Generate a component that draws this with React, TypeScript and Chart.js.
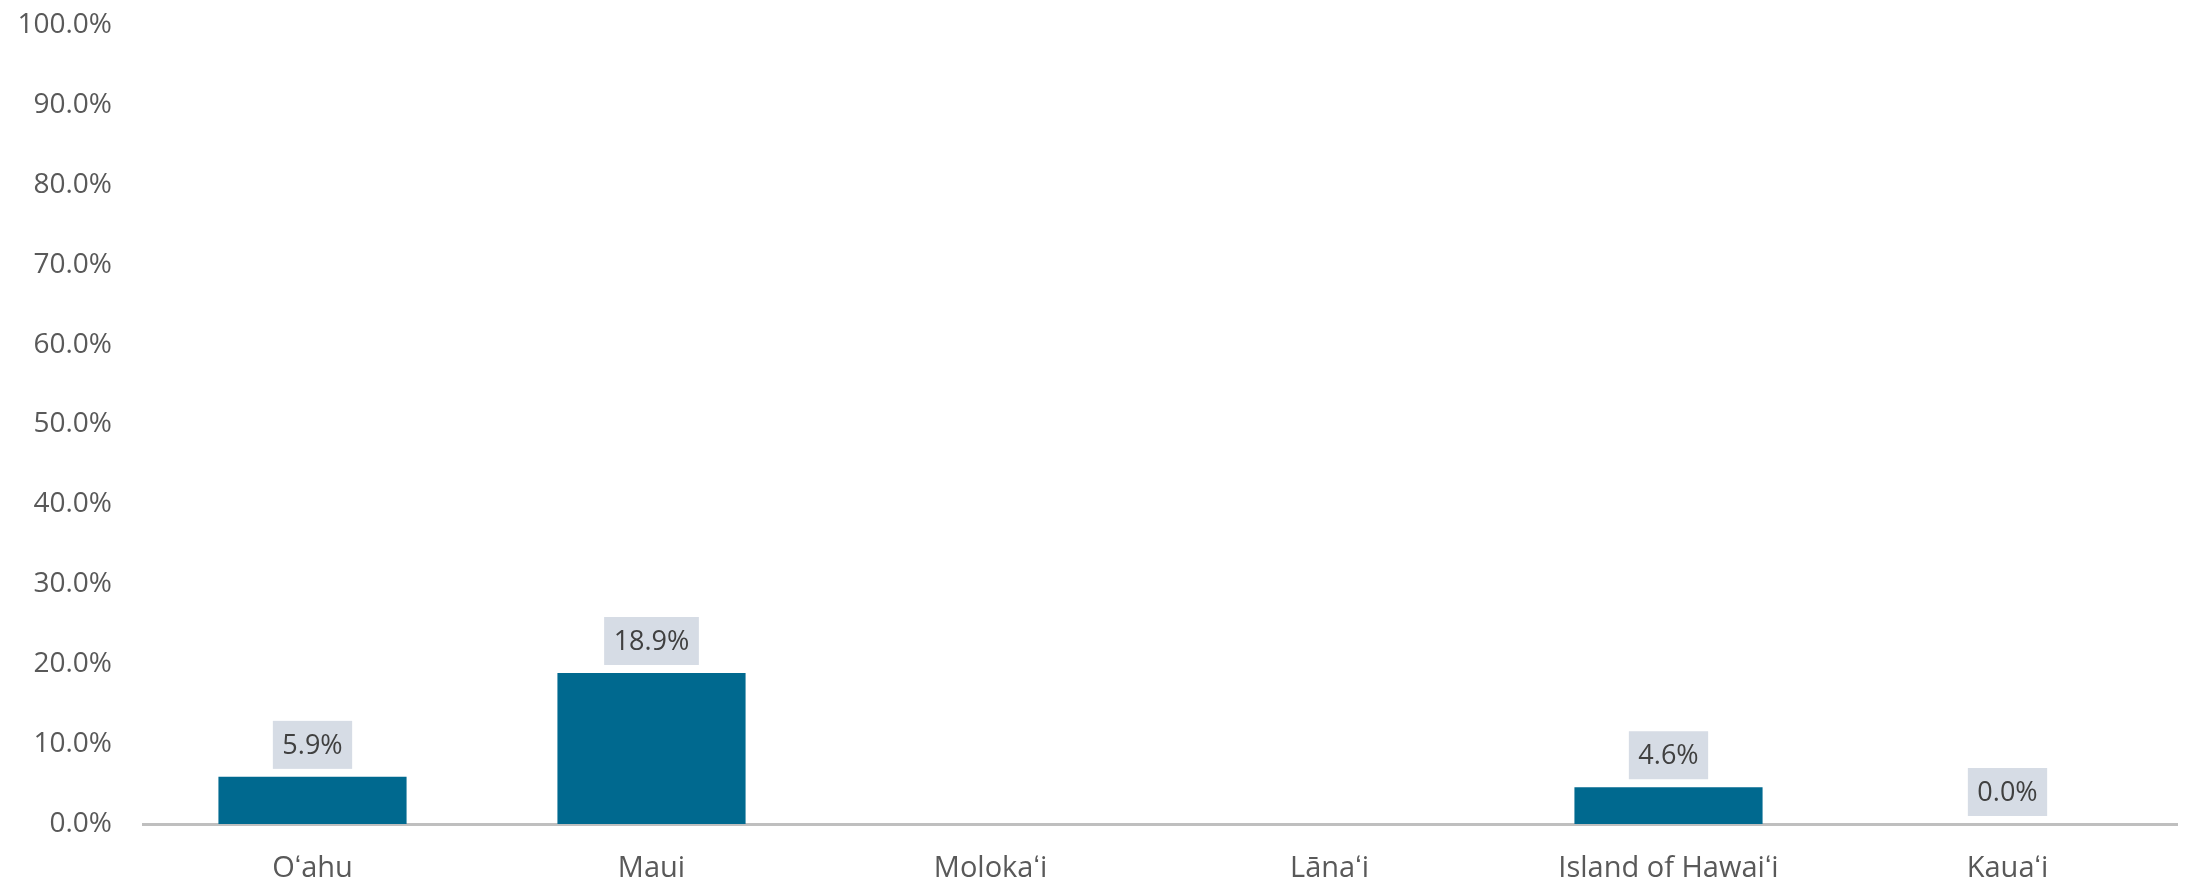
import React, { useEffect, useRef } from "react";
import { Chart, registerables } from "chart.js";

Chart.register(...registerables);

const categories = ["Oʻahu", "Maui", "Molokaʻi", "Lānaʻi", "Island of Hawaiʻi", "Kauaʻi"];
const values: (number | null)[] = [5.9, 18.9, null, null, 4.6, 0.0];
const yTicks = [0, 10, 20, 30, 40, 50, 60, 70, 80, 90, 100];

const BAR_COLOR = "#00698f";
const LABEL_BG = "#d6dce5";
const TEXT_GREY = "#595959";
const LABEL_TEXT = "#404040";
const FONT = "'Open Sans', 'Liberation Sans', sans-serif";

const labelPlugin = {
  id: "boxLabels",
  afterDatasetsDraw(chart: any) {
    const ctx = chart.ctx;
    const meta = chart.getDatasetMeta(0);
    const data = chart.data.datasets[0].data;
    ctx.save();
    ctx.font = `27px ${FONT}`;
    ctx.textAlign = "center";
    ctx.textBaseline = "middle";
    meta.data.forEach((bar: any, i: number) => {
      const v = data[i];
      if (v === null || v === undefined) return;
      const text = v.toFixed(1) + "%";
      const w = ctx.measureText(text).width + 19;
      const h = 48;
      const cx = bar.x;
      const bottom = bar.y - 8;
      ctx.fillStyle = LABEL_BG;
      ctx.fillRect(cx - w / 2, bottom - h, w, h);
      ctx.fillStyle = LABEL_TEXT;
      ctx.fillText(text, cx, bottom - h / 2 + 1);
    });
    ctx.restore();
  },
};

export default function App() {
  const ref = useRef<HTMLCanvasElement>(null);
  useEffect(() => {
    document.body.style.margin = "0";
    const chart = new Chart(ref.current!, {
      type: "bar",
      data: {
        labels: categories,
        datasets: [
          {
            data: values as any,
            backgroundColor: BAR_COLOR,
            barPercentage: 1,
            categoryPercentage: 0.555,
          },
        ],
      },
      options: {
        animation: false,
        responsive: false,
        maintainAspectRatio: false,
        layout: { padding: { top: 25, right: 11, left: 0, bottom: 0 } },
        plugins: { legend: { display: false }, tooltip: { enabled: false } },
        scales: {
          x: {
            grid: { display: false, drawTicks: false },
            border: { display: true, color: "#bfbfbf", width: 3 },
            ticks: {
              color: TEXT_GREY,
              font: { family: FONT, size: 29 },
              padding: 27,
              maxRotation: 0,
            },
            afterFit: (s: any) => {
              s.height = 59;
              s.paddingLeft = 0;
              s.paddingRight = 0;
            },
          },
          y: {
            min: 0,
            max: 100,
            grid: { display: false, drawTicks: false },
            border: { display: false },
            afterBuildTicks: (s: any) => {
              s.ticks = yTicks.map((v) => ({ value: v }));
            },
            ticks: {
              color: TEXT_GREY,
              font: { family: FONT, size: 28 },
              padding: 31,
              callback: (v: any) => Number(v).toFixed(1) + "%",
            },
            afterFit: (s: any) => {
              s.width = 143;
              s.paddingTop = 0;
              s.paddingBottom = 0;
            },
          },
        },
      },
      plugins: [labelPlugin],
    });
    return () => chart.destroy();
  }, []);
  return (
    <div style={{ position: "absolute", left: 0, top: 0, width: 2188, height: 883, background: "#fff" }}>
      <canvas ref={ref} width={2188} height={883} style={{ display: "block" }} />
    </div>
  );
}
